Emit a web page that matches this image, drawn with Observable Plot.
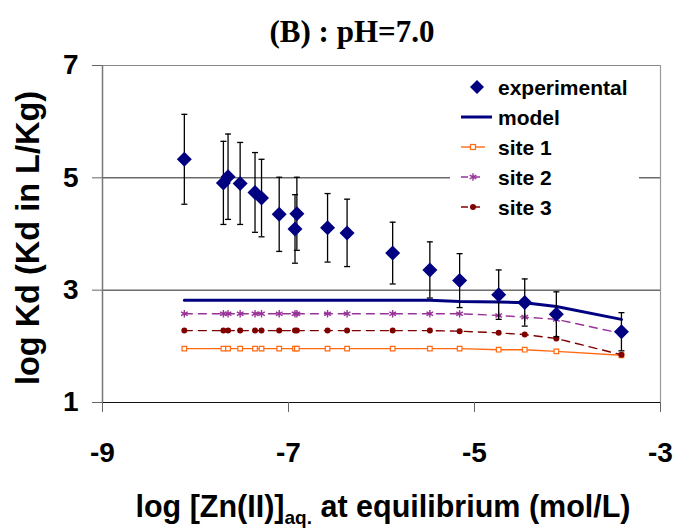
<!DOCTYPE html>
<html>
<head>
<meta charset="utf-8">
<script src="https://cdn.jsdelivr.net/npm/d3@7"></script>
<script src="https://cdn.jsdelivr.net/npm/@observablehq/plot@0.6"></script>
<style>
  html, body { margin: 0; padding: 0; background: #fff; }
  #chart { width: 675px; height: 530px; }
</style>
</head>
<body>
<div id="chart"></div>
<script>
// ---- data ----
const logZn   = [-8.12, -7.70, -7.65, -7.52, -7.36, -7.29, -7.10, -6.93, -6.91, -6.58, -6.37, -5.88, -5.48, -5.16, -4.74, -4.46, -4.12, -3.42];
const expKd   = [5.33, 4.91, 5.02, 4.90, 4.74, 4.64, 4.35, 4.09, 4.36, 4.11, 4.02, 3.66, 3.36, 3.17, 2.92, 2.78, 2.57, 2.26];
const expErr  = [0.80, 0.74, 0.76, 0.73, 0.71, 0.69, 0.66, 0.61, 0.65, 0.61, 0.60, 0.55, 0.50, 0.48, 0.44, 0.42, 0.40, 0.34];
const modelKd = [2.82, 2.82, 2.82, 2.82, 2.82, 2.82, 2.82, 2.82, 2.82, 2.82, 2.82, 2.82, 2.82, 2.80, 2.79, 2.775, 2.71, 2.48];
const site1Kd = [1.96, 1.96, 1.96, 1.96, 1.96, 1.96, 1.96, 1.96, 1.96, 1.96, 1.96, 1.96, 1.96, 1.96, 1.94, 1.94, 1.91, 1.84];
const site2Kd = [2.58, 2.58, 2.58, 2.58, 2.58, 2.58, 2.58, 2.58, 2.58, 2.58, 2.58, 2.58, 2.58, 2.58, 2.55, 2.52, 2.48, 2.23];
const site3Kd = [2.28, 2.28, 2.28, 2.28, 2.28, 2.28, 2.28, 2.28, 2.28, 2.28, 2.28, 2.28, 2.28, 2.27, 2.24, 2.21, 2.14, 1.85];
const xTicks  = [-9, -7, -5, -3];
const yTicks  = [1, 3, 5, 7];
const seriesNames = ["experimental", "model", "site 1", "site 2", "site 3"];

const C = { exp: "#000080", model: "#000080", s1: "#ff6a13", s2: "#993399", s3: "#800000" };

const rows = logZn.map((x, i) => ({
  x, kd: expKd[i], err: expErr[i], model: modelKd[i], s1: site1Kd[i], s2: site2Kd[i], s3: site3Kd[i]
}));

const diamond = { draw(ctx, size) { const h = Math.sqrt(size / Math.PI); ctx.moveTo(0, -h); ctx.lineTo(h, 0); ctx.lineTo(0, h); ctx.lineTo(-h, 0); ctx.closePath(); } };
const cap = { draw(ctx, size) { const w = Math.sqrt(size / Math.PI); ctx.moveTo(-w, 0); ctx.lineTo(w, 0); } };

const chart = Plot.plot({
  width: 675, height: 530,
  marginLeft: 102, marginRight: 15, marginTop: 65, marginBottom: 128,
  style: { fontFamily: "'Liberation Sans', Arial, sans-serif", fontWeight: "bold", background: "#fff", color: "#000" },
  x: { domain: [-9, -3] },
  y: { domain: [1, 7] },
  marks: [
    Plot.ruleY([3, 5], { stroke: "#222", strokeWidth: 1 }),
    Plot.ruleY([7], { stroke: "#888", strokeWidth: 1.2 }),
    Plot.ruleX([-3], { stroke: "#999", strokeWidth: 1.2 }),
    Plot.ruleX([-9], { stroke: "#777", strokeWidth: 1.5 }),
    Plot.ruleY([1], { stroke: "#111", strokeWidth: 1.2 }),
    // site 1
    Plot.line(rows, { x: "x", y: "s1", stroke: C.s1, strokeWidth: 1.4 }),
    Plot.dot(rows, { x: "x", y: "s1", symbol: "square", r: 2.6, stroke: C.s1, fill: "white", strokeWidth: 1.2 }),
    // site 3
    Plot.line(rows, { x: "x", y: "s3", stroke: C.s3, strokeWidth: 1.4, strokeDasharray: "8,6" }),
    Plot.dot(rows, { x: "x", y: "s3", r: 3, fill: C.s3, stroke: "none" }),
    // site 2
    Plot.line(rows, { x: "x", y: "s2", stroke: C.s2, strokeWidth: 1.4, strokeDasharray: "8,6" }),
    Plot.dot(rows, { x: "x", y: "s2", symbol: "asterisk", r: 3.6, stroke: C.s2, strokeWidth: 1.4 }),
    // model
    Plot.line(rows, { x: "x", y: "model", stroke: C.model, strokeWidth: 3 }),
    // error bars
    Plot.ruleX(rows, { x: "x", y1: d => d.kd - d.err, y2: d => d.kd + d.err, stroke: "#000", strokeWidth: 1.3 }),
    Plot.dot(rows, { x: "x", y: d => d.kd + d.err, symbol: cap, r: 3, stroke: "#000", fill: "none", strokeWidth: 1.3 }),
    Plot.dot(rows, { x: "x", y: d => d.kd - d.err, symbol: cap, r: 3, stroke: "#000", fill: "none", strokeWidth: 1.3 }),
    // experimental
    Plot.dot(rows, { x: "x", y: "kd", symbol: diamond, r: 7.5, fill: C.exp, stroke: "none" }),
    Plot.axisX({ ticks: xTicks, tickFormat: d => String(d), tickSize: 10, tickPadding: 30, fontSize: 28, label: null, stroke: "#666" }),
    Plot.axisY({ ticks: yTicks, tickFormat: d => String(d), tickSize: 10, tickPadding: 14, fontSize: 28, label: null, stroke: "#666" })
  ]
});

document.getElementById("chart").appendChild(chart);

const svg = d3.select(chart);

// title
svg.append("text")
  .attr("x", 352).attr("y", 42)
  .attr("text-anchor", "middle")
  .style("font-family", "'Liberation Serif', 'Times New Roman', serif")
  .style("font-weight", "bold").style("font-size", "31px")
  .text("(B) : pH=7.0");

// x title with subscript
const xt = svg.append("text")
  .attr("x", 383).attr("y", 517)
  .attr("text-anchor", "middle")
  .style("font-size", "30.5px").style("font-weight", "bold");
xt.append("tspan").text("log [Zn(II)]");
xt.append("tspan").attr("dy", 7).style("font-size", "19px").text("aq.");
xt.append("tspan").attr("dy", -7).text(" at equilibrium (mol/L)");

// y title
svg.append("text")
  .attr("transform", "translate(39,238) rotate(-90)")
  .attr("text-anchor", "middle")
  .style("font-size", "32.5px").style("font-weight", "bold")
  .text("log Kd (Kd in L/Kg)");

// legend
const lg = svg.append("g");
lg.append("rect").attr("x", 450).attr("y", 66).attr("width", 189).attr("height", 158).attr("fill", "#fff");
const rowY = [87, 117, 147, 177, 207];
seriesNames.forEach((name, i) => {
  lg.append("text").attr("x", 498).attr("y", rowY[i]).attr("dy", "0.36em")
    .attr("text-anchor", "start")
    .style("font-size", "21px").style("font-weight", "bold").text(name);
});
lg.append("path").attr("transform", `translate(477,${rowY[0]})`)
  .attr("d", d3.symbol(diamond, Math.PI * 49)()).attr("fill", C.exp);
lg.append("line").attr("x1", 461).attr("x2", 492).attr("y1", rowY[1]).attr("y2", rowY[1]).attr("stroke", C.model).attr("stroke-width", 3);
lg.append("line").attr("x1", 461).attr("x2", 485).attr("y1", rowY[2]).attr("y2", rowY[2]).attr("stroke", C.s1).attr("stroke-width", 1.4);
lg.append("rect").attr("x", 470.5).attr("y", rowY[2] - 2.5).attr("width", 5).attr("height", 5).attr("fill", "#fff").attr("stroke", C.s1).attr("stroke-width", 1.2);
lg.append("line").attr("x1", 461).attr("x2", 485).attr("y1", rowY[3]).attr("y2", rowY[3]).attr("stroke", C.s2).attr("stroke-width", 1.4).attr("stroke-dasharray", "7,5");
lg.append("path").attr("transform", `translate(473,${rowY[3]})`)
  .attr("d", d3.symbol(d3.symbolAsterisk, Math.PI * 13)()).attr("fill", "none").attr("stroke", C.s2).attr("stroke-width", 1.4);
lg.append("line").attr("x1", 461).attr("x2", 485).attr("y1", rowY[4]).attr("y2", rowY[4]).attr("stroke", C.s3).attr("stroke-width", 1.4).attr("stroke-dasharray", "7,5");
lg.append("circle").attr("cx", 473).attr("cy", rowY[4]).attr("r", 3).attr("fill", C.s3);
</script>
</body>
</html>
